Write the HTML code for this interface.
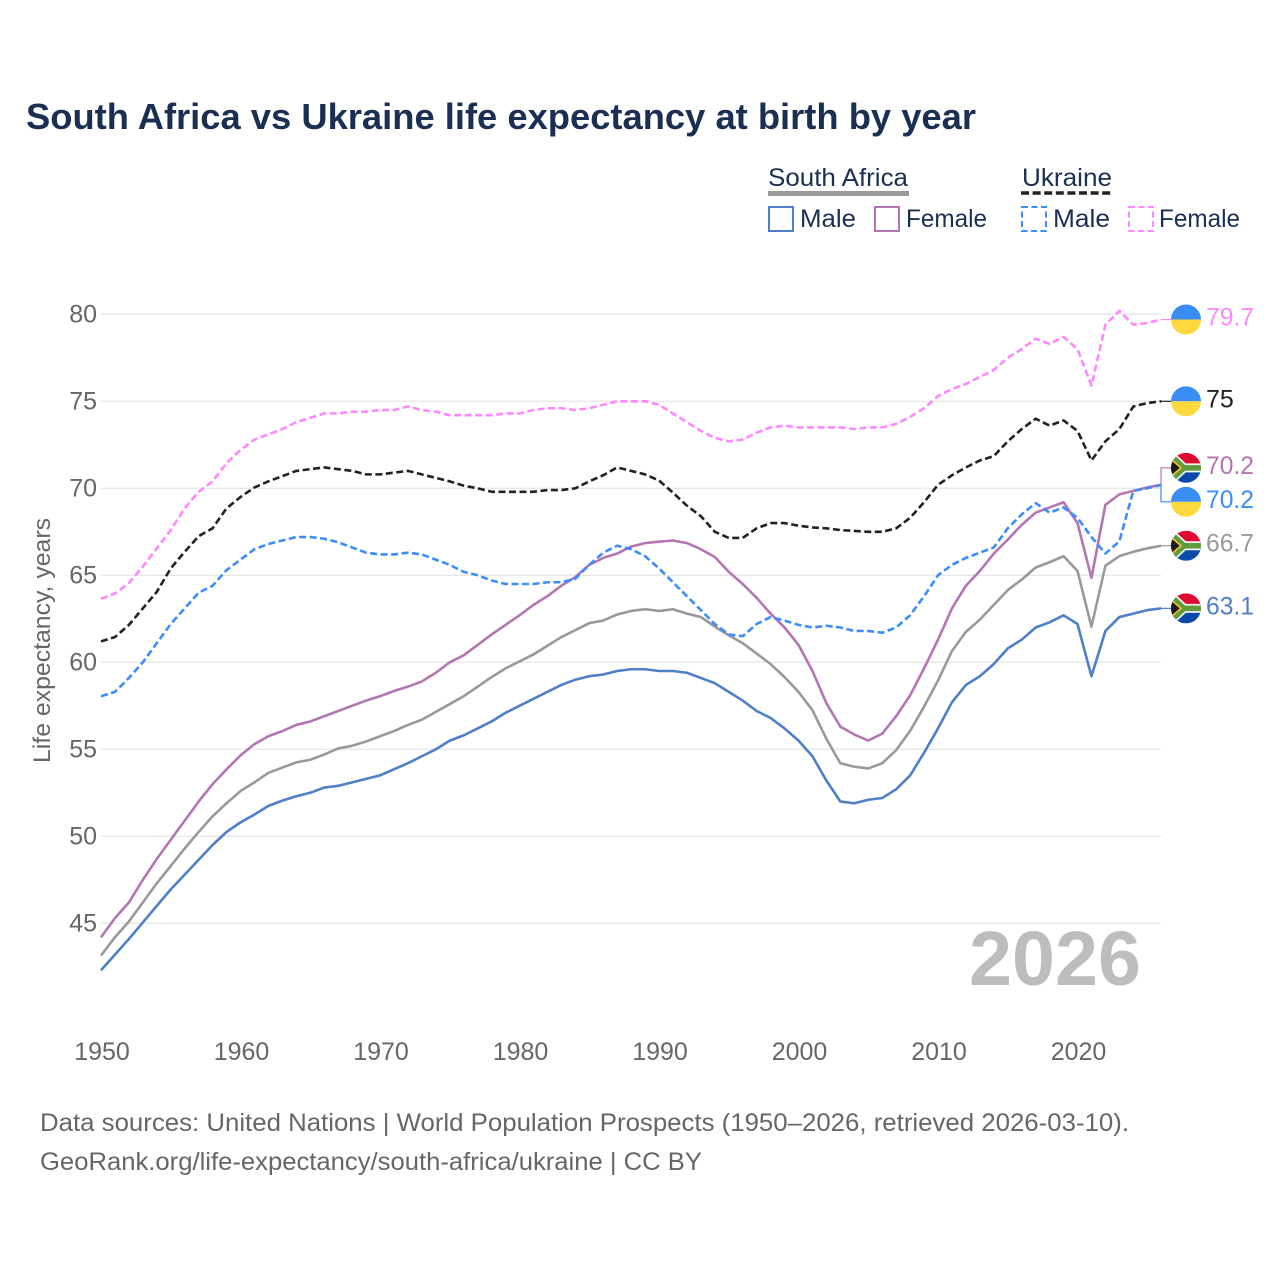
<!DOCTYPE html>
<html lang="en">
<head>
<meta charset="utf-8">
<title>South Africa vs Ukraine life expectancy at birth by year</title>
<style>
  html, body { margin: 0; padding: 0; background: #ffffff; }
  svg { display: block; font-family: "Liberation Sans", sans-serif; }
</style>
</head>
<body>
<svg id="chart" xmlns="http://www.w3.org/2000/svg" width="1280" height="1280" viewBox="0 0 1280 1280">
  <rect x="0" y="0" width="1280" height="1280" fill="#ffffff"/>
  <text x="26" y="129" font-size="36" font-weight="700" fill="#1a2f52" textLength="950" lengthAdjust="spacingAndGlyphs">South Africa vs Ukraine life expectancy at birth by year</text>

  <g font-size="25" fill="#1a2f52">
    <text x="768" y="186" textLength="140" lengthAdjust="spacingAndGlyphs">South Africa</text>
    <rect x="768" y="191" width="141" height="5" fill="#999999"/>
    <text x="1022" y="186" textLength="90" lengthAdjust="spacingAndGlyphs">Ukraine</text>
    <line x1="1021" y1="193" x2="1112" y2="193" stroke="#222222" stroke-width="3.6" stroke-dasharray="8 3.6"/>
    <rect x="769" y="207" width="24" height="24" fill="none" stroke="#4e7fc9" stroke-width="2"/>
    <text x="800" y="227" textLength="56" lengthAdjust="spacingAndGlyphs">Male</text>
    <rect x="875" y="207" width="24" height="24" fill="none" stroke="#b376b3" stroke-width="2"/>
    <text x="906" y="227" textLength="81" lengthAdjust="spacingAndGlyphs">Female</text>
    <rect x="1022" y="207" width="24" height="24" fill="none" stroke="#3b8cff" stroke-width="2" stroke-dasharray="6 3.5"/>
    <text x="1053" y="227" textLength="57" lengthAdjust="spacingAndGlyphs">Male</text>
    <rect x="1129" y="207" width="24" height="24" fill="none" stroke="#ff88ff" stroke-width="2" stroke-dasharray="6 3.5"/>
    <text x="1159" y="227" textLength="81" lengthAdjust="spacingAndGlyphs">Female</text>
  </g>

  <text transform="translate(50,763) rotate(-90)" font-size="24" fill="#666666" textLength="245" lengthAdjust="spacingAndGlyphs">Life expectancy, years</text>

  <g id="grid"></g>
  <g id="yticks"></g>
  <g id="xticks"></g>

  <text x="969" y="985" font-size="77" font-weight="700" fill="#bdbdbd" textLength="172" lengthAdjust="spacingAndGlyphs">2026</text>

  <g id="series"></g>
  <g id="connectors"></g>
  <g id="flags"></g>
  <g id="endlabels"></g>

  <g font-size="25" fill="#666666">
    <text x="40" y="1131" textLength="1089" lengthAdjust="spacingAndGlyphs">Data sources: United Nations | World Population Prospects (1950–2026, retrieved 2026-03-10).</text>
    <text x="40" y="1170" textLength="662" lengthAdjust="spacingAndGlyphs">GeoRank.org/life-expectancy/south-africa/ukraine | CC BY</text>
  </g>
</svg>
<script>
const xTickLabels = [1950, 1960, 1970, 1980, 1990, 2000, 2010, 2020];
const yTickLabels = [45, 50, 55, 60, 65, 70, 75, 80];
const firstYear = 1950;

const saMale = [42.3,43.2,44.1,45.05,46.0,46.95,47.8,48.65,49.5,50.25,
  50.8,51.25,51.75,52.05,52.3,52.5,52.8,52.9,53.1,53.3,
  53.5,53.85,54.2,54.6,55.0,55.5,55.8,56.2,56.6,57.1,
  57.5,57.9,58.3,58.7,59.0,59.2,59.3,59.5,59.6,59.6,
  59.5,59.5,59.4,59.1,58.8,58.3,57.8,57.2,56.8,56.2,
  55.5,54.6,53.2,52.0,51.9,52.1,52.2,52.7,53.5,54.8,
  56.2,57.7,58.7,59.2,59.9,60.8,61.3,62.0,62.3,62.7,
  62.2,59.2,61.8,62.6,62.8,63.0,63.1];
const saFemale = [44.2,45.3,46.2,47.5,48.7,49.8,50.9,52.0,53.0,53.85,
  54.65,55.3,55.75,56.05,56.4,56.6,56.9,57.2,57.5,57.8,
  58.05,58.35,58.6,58.9,59.4,60.0,60.4,61.0,61.6,62.15,
  62.7,63.3,63.8,64.4,64.9,65.6,66.0,66.25,66.65,66.85,
  66.93,67.0,66.85,66.5,66.05,65.2,64.5,63.7,62.8,62.0,
  61.0,59.5,57.65,56.3,55.85,55.5,55.9,56.9,58.1,59.65,
  61.3,63.1,64.4,65.25,66.25,67.05,67.9,68.6,68.9,69.2,
  68.0,64.85,69.05,69.65,69.85,70.05,70.2];
const saTotal = [43.15,44.2,45.1,46.2,47.3,48.3,49.3,50.25,51.15,51.9,
  52.6,53.1,53.65,53.95,54.25,54.4,54.7,55.05,55.2,55.45,
  55.75,56.05,56.4,56.7,57.15,57.6,58.05,58.6,59.15,59.65,
  60.05,60.45,60.95,61.45,61.85,62.25,62.4,62.75,62.95,63.05,
  62.95,63.05,62.8,62.6,62.05,61.55,61.1,60.5,59.9,59.15,
  58.3,57.25,55.6,54.2,54.0,53.9,54.2,54.95,56.05,57.45,
  58.95,60.65,61.75,62.45,63.3,64.15,64.75,65.45,65.75,66.1,
  65.25,62.05,65.55,66.1,66.35,66.55,66.7];
const uaMale = [58.05,58.3,59.1,60.0,61.1,62.2,63.1,64.0,64.4,65.3,
  65.9,66.5,66.8,67.0,67.2,67.2,67.1,66.9,66.6,66.3,
  66.2,66.2,66.3,66.2,65.9,65.6,65.2,65.0,64.7,64.5,
  64.5,64.5,64.6,64.6,64.8,65.6,66.3,66.7,66.5,66.1,
  65.4,64.6,63.8,63.0,62.2,61.6,61.5,62.2,62.6,62.4,
  62.15,62.0,62.1,62.0,61.8,61.8,61.7,62.0,62.7,63.8,
  65.0,65.6,66.0,66.3,66.6,67.7,68.5,69.15,68.6,68.9,
  68.3,67.2,66.25,66.95,69.85,70.0,70.2];
const uaFemale = [63.65,63.95,64.55,65.5,66.55,67.6,68.85,69.8,70.4,71.45,
  72.2,72.8,73.1,73.4,73.8,74.05,74.3,74.3,74.4,74.4,
  74.5,74.5,74.7,74.5,74.4,74.2,74.2,74.2,74.2,74.3,
  74.3,74.5,74.6,74.6,74.5,74.6,74.8,75.0,75.0,75.0,
  74.8,74.3,73.8,73.3,72.9,72.7,72.8,73.2,73.5,73.6,
  73.5,73.5,73.5,73.5,73.4,73.5,73.5,73.7,74.1,74.6,
  75.3,75.7,76.0,76.4,76.8,77.5,78.0,78.6,78.3,78.7,
  78.0,75.9,79.4,80.2,79.4,79.5,79.7];
const uaTotal = [61.2,61.45,62.15,63.1,64.05,65.4,66.35,67.25,67.7,68.85,
  69.5,70.05,70.4,70.7,71.0,71.1,71.2,71.1,71.0,70.8,
  70.8,70.9,71.0,70.8,70.6,70.4,70.15,70.0,69.8,69.8,
  69.8,69.8,69.9,69.9,70.0,70.4,70.75,71.2,71.0,70.8,
  70.45,69.75,69.0,68.4,67.5,67.15,67.15,67.7,68.0,68.0,
  67.85,67.75,67.7,67.6,67.55,67.5,67.5,67.7,68.3,69.2,
  70.2,70.75,71.2,71.6,71.85,72.7,73.4,74.0,73.6,73.9,
  73.3,71.6,72.7,73.4,74.7,74.9,75.0];

const NS = 'http://www.w3.org/2000/svg';
function xScale(year) { return 101 + (year - firstYear) * 13.95; }
function yScale(value) { return 314.3 + (80 - value) * 17.4; }
function make(tag, parent, attrs) {
  const el = document.createElementNS(NS, tag);
  for (const k in attrs) el.setAttribute(k, attrs[k]);
  parent.appendChild(el);
  return el;
}

const gridG = document.getElementById('grid');
const yticksG = document.getElementById('yticks');
const xticksG = document.getElementById('xticks');
const seriesG = document.getElementById('series');
const connG = document.getElementById('connectors');
const flagsG = document.getElementById('flags');
const labelsG = document.getElementById('endlabels');

yTickLabels.forEach(function (t) {
  const line = make('line', gridG, { x1: 101, x2: 1161, y1: yScale(t), y2: yScale(t), stroke: '#e8e8e8', 'stroke-width': 1.4 });
  
  
  const label = make('text', yticksG, { x: 97, y: yScale(t) + 8, 'text-anchor': 'end', 'font-size': 25, fill: '#666666' });
  label.textContent = String(t);
  
  
});

xTickLabels.forEach(function (t) {
  const label = make('text', xticksG, { x: xScale(t) + 1, y: 1060, 'text-anchor': 'middle', 'font-size': 25, fill: '#666666' });
  label.textContent = String(t);
  
  
});

const seriesList = [
  { key: 'south-africa-male', values: saMale, color: '#4e7fc9', dash: '', flag: 'za' },
  { key: 'south-africa-female', values: saFemale, color: '#b376b3', dash: '', flag: 'za' },
  { key: 'south-africa-total', values: saTotal, color: '#999999', dash: '', flag: 'za' },
  { key: 'ukraine-total', values: uaTotal, color: '#222222', dash: '7 3.5', flag: 'ua' },
  { key: 'ukraine-female', values: uaFemale, color: '#ff88ff', dash: '7 3.5', flag: 'ua' },
  { key: 'ukraine-male', values: uaMale, color: '#3b8cff', dash: '7 3.5', flag: 'ua' }
];

seriesList.forEach(function (s) {
  const d = s.values.map(function (v, i) {
    return (i ? 'L' : 'M') + xScale(firstYear + i).toFixed(2) + ' ' + yScale(v).toFixed(2);
  }).join(' ');
  const attrs = { d: d, fill: 'none', stroke: s.color, 'stroke-width': 2.6, 'stroke-linejoin': 'round' };
  if (s.dash) attrs['stroke-dasharray'] = s.dash;
  const path = make('path', seriesG, attrs);
  
  
});

/* End labels: sit at the final value, pushed apart when they would collide. */
const ends = seriesList.map(function (s) {
  const last = s.values[s.values.length - 1];
  return { s: s, value: last, y0: yScale(last), y: yScale(last) };
}).sort(function (a, b) { return a.y0 - b.y0; });

for (let i = 1; i < ends.length; i++) {
  if (ends[i].y - ends[i - 1].y < 34) {
    const mid = (ends[i].y + ends[i - 1].y) / 2;
    ends[i - 1].y = mid - 17;
    ends[i].y = mid + 17;
  }
}

function drawFlag(kind, cy, id) {
  const g = make('g', flagsG, { transform: 'translate(1186,' + cy.toFixed(2) + ')' });
  
  
  const clip = make('clipPath', g, { id: 'clip-' + id });
  make('circle', clip, { cx: 0, cy: 0, r: 15 });
  const inner = make('g', g, { 'clip-path': 'url(#clip-' + id + ')' });
  if (kind === 'ua') {
    make('rect', inner, { x: -15, y: -15, width: 30, height: 15, fill: '#3a8df5' });
    make('rect', inner, { x: -15, y: 0, width: 30, height: 15, fill: '#ffd83d' });
  } else {
    make('rect', inner, { x: -15, y: -15, width: 30, height: 15, fill: '#de0a32' });
    make('rect', inner, { x: -15, y: 0, width: 30, height: 15, fill: '#0a4aa8' });
    make('path', inner, { d: 'M-16 -13 L-2 0 L16 0 M-16 13 L-2 0', fill: 'none', stroke: '#f2f2f2', 'stroke-width': 9 });
    make('path', inner, { d: 'M-16 -13 L-2 0 L16 0 M-16 13 L-2 0', fill: 'none', stroke: '#5f9a3c', 'stroke-width': 5.5 });
    make('path', inner, { d: 'M-16 -9.5 L-5 0 L-16 9.5 Z', fill: '#1c1c1c', stroke: '#f6c62e', 'stroke-width': 1.6 });
  }
}

ends.forEach(function (e) {
  const conn = make('path', connG, {
    d: 'M1161 ' + e.y0.toFixed(2) + ' V' + e.y.toFixed(2) + ' H1172',
    fill: 'none', stroke: e.s.color, 'stroke-width': 1.2
  });
  
  
  drawFlag(e.s.flag, e.y, e.s.key);
  const text = String(e.value);
  const label = make('text', labelsG, { x: 1206, y: e.y + 6, 'font-size': 25, fill: e.s.color });
  label.textContent = text;
  if (text.length > 2) {
    label.setAttribute('textLength', 48);
    label.setAttribute('lengthAdjust', 'spacingAndGlyphs');
  }
  
  
});
</script>
</body>
</html>
